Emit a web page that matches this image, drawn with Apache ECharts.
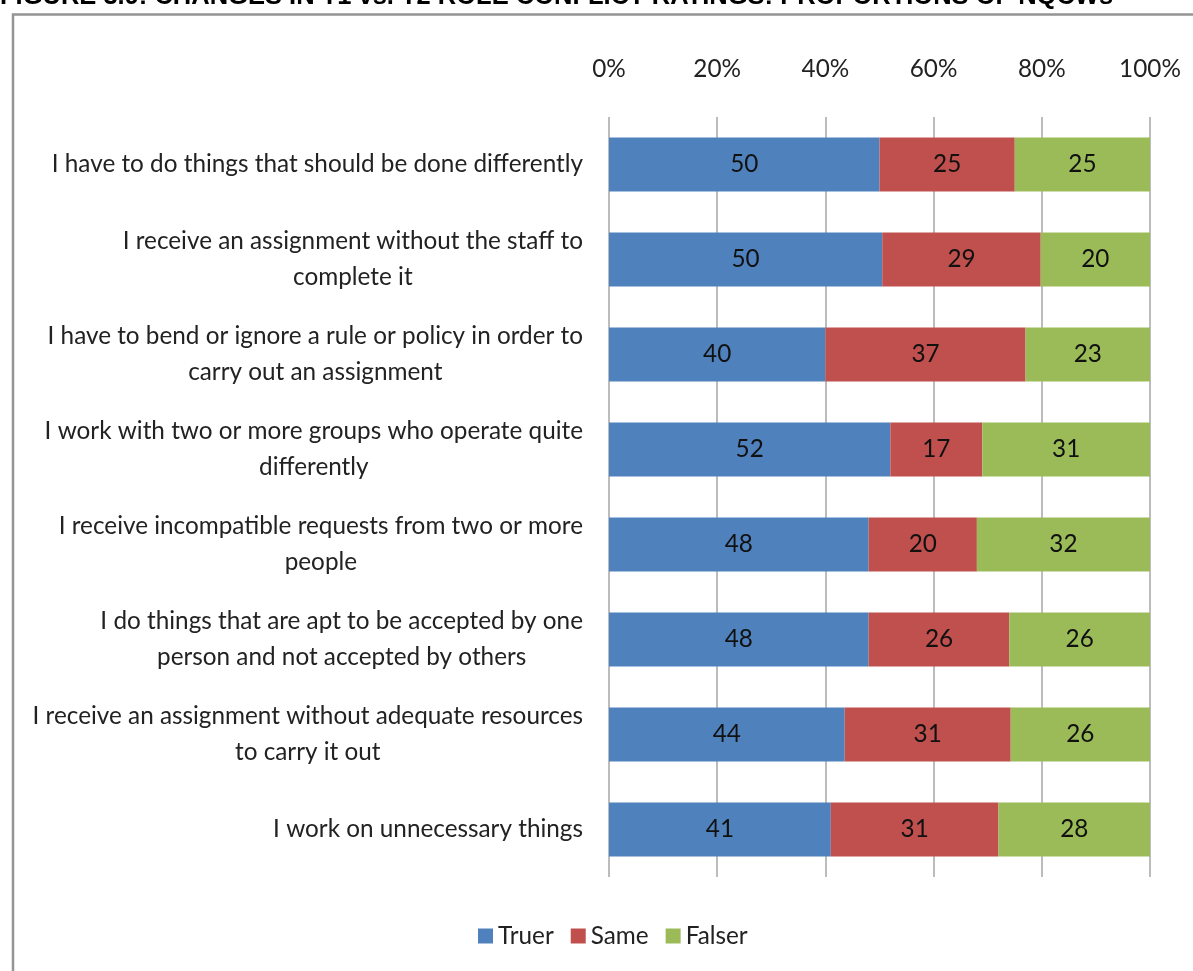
<!DOCTYPE html>
<html>
<head>
<meta charset="utf-8">
<script src="https://cdn.jsdelivr.net/npm/echarts@6/dist/echarts.min.js"></script>
<style>
html,body{margin:0;padding:0;background:#fff;}
#chart{width:1193px;height:971px;}
</style>
</head>
<body>
<div id="chart"></div>
<script>
const titleText = 'FIGURE 3.9: CHANGES IN T1 vs. T2 ROLE CONFLICT RATINGS: PROPORTIONS OF NQCWs';
const categories = [
  'I have to do things that should be done differently',
  'I receive an assignment without the staff to\ncomplete it',
  'I have to bend or ignore a rule or policy in order to\ncarry out an assignment',
  'I work with two or more groups who operate quite\ndifferently',
  'I receive incompatible requests from two or more\npeople',
  'I do things that are apt to be accepted by one\nperson and not accepted by others',
  'I receive an assignment without adequate resources\nto carry it out',
  'I work on unnecessary things'
];
const seriesNames = ['Truer', 'Same', 'Falser'];
const truer  = [50, 50, 40, 52, 48, 48, 44, 41];
const same   = [25, 29, 37, 17, 20, 26, 31, 31];
const falser = [25, 20, 23, 31, 32, 26, 26, 28];
const xTicks = [0, 20, 40, 60, 80, 100];

const FONT = 'Lato';
const FS = 24.3;
const raw = [truer, same, falser];
const colors = ['#4F81BD', '#C0504D', '#9BBB59'];
const totals = truer.map((v, i) => v + same[i] + falser[i]);

const chart = echarts.init(document.getElementById('chart'));
chart.setOption({
  animation: false,
  textStyle: { fontFamily: FONT },
  graphic: [
    { type: 'rect', shape: { x: 13, y: 14.5, width: 1300, height: 1100 },
      style: { fill: 'none', stroke: '#949494', lineWidth: 2.5 }, z: 0 },
    { type: 'text', x: 0, y: -3,
      style: { text: titleText, font: 'bold 25.5px "Liberation Sans", Arial', fill: '#000',
               verticalAlign: 'middle' } }
  ],
  grid: { left: 609, right: 43, top: 117, bottom: 94, containLabel: false },
  legend: {
    data: seriesNames, left: 473, top: 919,
    itemWidth: 15, itemHeight: 15, itemGap: 17, icon: 'rect',
    textStyle: { fontFamily: FONT, fontSize: FS, color: '#222', padding: [0, 0, 0, 0] }
  },
  xAxis: {
    type: 'value', position: 'top', min: 0, max: 100, interval: 20,
    axisLine: { show: false }, axisTick: { show: false },
    axisLabel: { formatter: v => v + '%', fontSize: FS, color: '#222', margin: 36, fontFamily: FONT },
    splitLine: { show: true, lineStyle: { color: '#a6a6a6', width: 1.5 } }
  },
  yAxis: {
    type: 'category', inverse: true, data: categories,
    axisLine: { show: false }, axisTick: { show: false },
    axisLabel: {
      margin: 26, fontSize: FS, color: '#222', fontFamily: FONT, align: 'right', lineHeight: 36,
      formatter: v => v.split('\n').map(l => '{c|' + l + '}').join('\n'),
      rich: { c: { align: 'center', fontSize: FS, fontFamily: FONT, color: '#222', lineHeight: 36 } }
    }
  },
  series: seriesNames.map((name, s) => ({
    name, type: 'bar', stack: 'all', barWidth: 54,
    itemStyle: { color: colors[s] },
    label: {
      show: true, position: 'inside', fontSize: FS, color: '#111', fontFamily: FONT,
      formatter: p => String(raw[s][p.dataIndex])
    },
    data: raw[s].map((v, i) => v / totals[i] * 100)
  }))
});
</script>
</body>
</html>
